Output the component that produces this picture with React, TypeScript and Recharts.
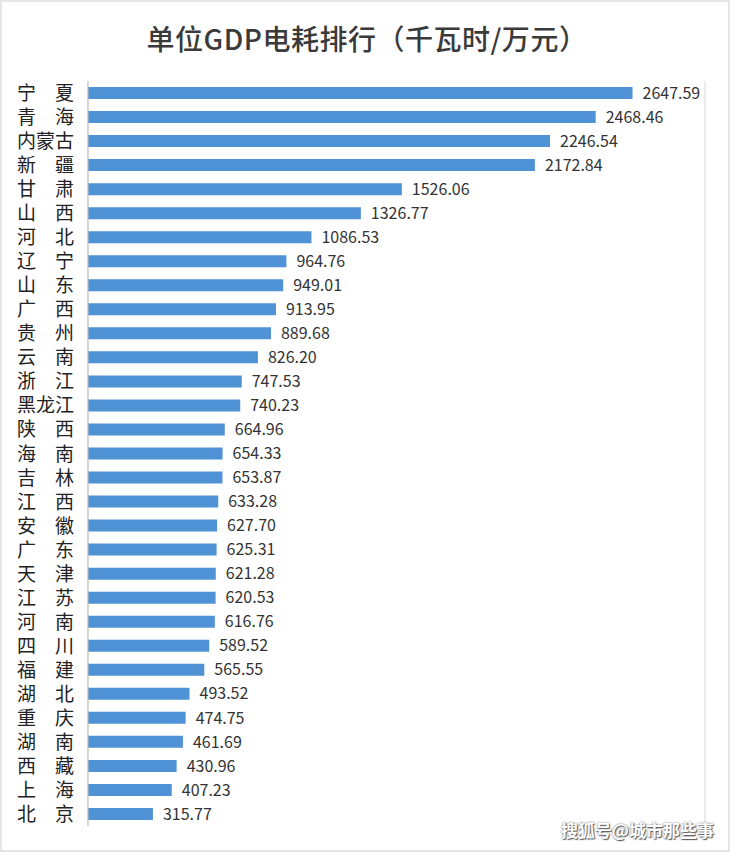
import React from "react";
import { BarChart, Bar, XAxis, YAxis, CartesianGrid, LabelList } from "recharts";

const provinces = [
  "宁夏", "青海", "内蒙古", "新疆", "甘肃", "山西", "河北", "辽宁", "山东", "广西",
  "贵州", "云南", "浙江", "黑龙江", "陕西", "海南", "吉林", "江西", "安徽", "广东",
  "天津", "江苏", "河南", "四川", "福建", "湖北", "重庆", "湖南", "西藏", "上海", "北京",
];

const usage = [
  2647.59, 2468.46, 2246.54, 2172.84, 1526.06, 1326.77, 1086.53, 964.76, 949.01, 913.95,
  889.68, 826.2, 747.53, 740.23, 664.96, 654.33, 653.87, 633.28, 627.7, 625.31,
  621.28, 620.53, 616.76, 589.52, 565.55, 493.52, 474.75, 461.69, 430.96, 407.23, 315.77,
];

const xTicks = [0, 500, 1000, 1500, 2000, 2500, 3000];

const chartData = provinces.map((name, i) => ({ name, value: usage[i] }));

const FONT = '"Noto Sans CJK SC", "Noto Sans", sans-serif';

// two-character names get a full-width space so they line up with three-character ones
const ProvinceTick = (props: any) => {
  const { y, payload } = props;
  const label = payload.value.length === 2 ? payload.value[0] + "\u3000" + payload.value[1] : payload.value;
  return (
    <text x={17} y={y} dy={7} textAnchor="start" fontSize={19} fill="#222" fontFamily={FONT}>
      {label}
    </text>
  );
};

export default function App() {
  return (
    <div
      style={{
        position: "absolute",
        left: 0,
        top: 0,
        width: 730,
        height: 852,
        background: "#fff",
        boxSizing: "border-box",
        border: "2px solid #e6e6e6",
        fontFamily: FONT,
      }}
    >
      <div
        style={{
          position: "absolute",
          left: 0,
          top: 16,
          width: 730,
          textAlign: "center",
          fontSize: 28,
          fontWeight: 500,
          color: "#3a3a3a",
          letterSpacing: 0.5,
        }}
      >
        单位GDP电耗排行（千瓦时/万元）
      </div>
      <div style={{ position: "absolute", left: -2, top: -2 }}>
        <BarChart
          width={730}
          height={852}
          layout="vertical"
          data={chartData}
          margin={{ top: 81, right: 25, bottom: 26, left: 0 }}
          barCategoryGap={12}
        >
          <CartesianGrid horizontal={false} stroke="#d9d9d9" />
          <XAxis
            type="number"
            domain={[0, 3000]}
            ticks={xTicks}
            tick={false}
            axisLine={false}
            tickLine={false}
            height={0}
          />
          <YAxis
            type="category"
            dataKey="name"
            width={88}
            tick={<ProvinceTick />}
            tickLine={false}
            axisLine={{ stroke: "#bfbfbf" }}
            interval={0}
          />
          <Bar dataKey="value" fill="#4f93d6" barSize={12} isAnimationActive={false}>
            <LabelList
              dataKey="value"
              position="right"
              offset={10}
              formatter={(v: any) => Number(v).toFixed(2)}
              style={{ fontSize: 16, fill: "#333", fontFamily: FONT }}
            />
          </Bar>
        </BarChart>
      </div>
      <div
        style={{
          position: "absolute",
          right: 14,
          bottom: 8,
          fontSize: 17,
          fontWeight: 700,
          color: "#fff",
          textShadow: "0 0 2px #666, 1px 1px 1px #555",
        }}
      >
        搜狐号@城市那些事
      </div>
    </div>
  );
}
